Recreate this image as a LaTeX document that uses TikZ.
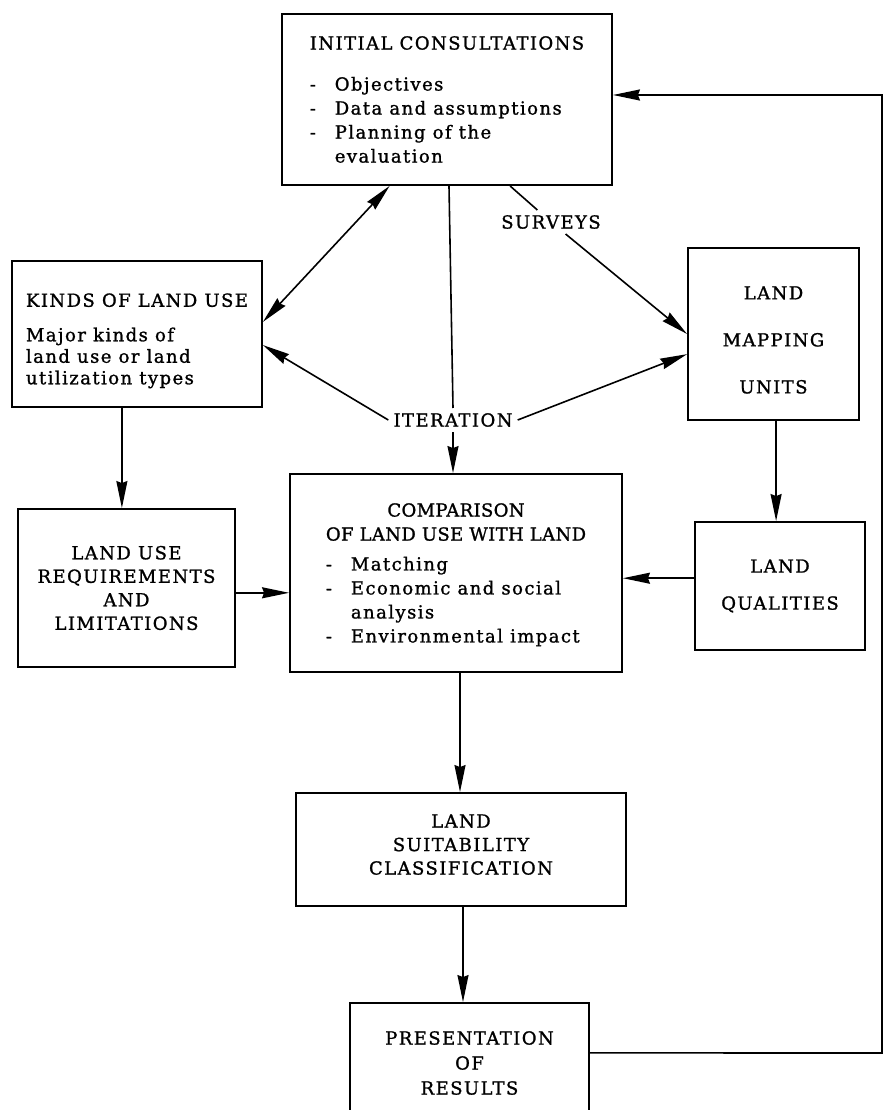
\documentclass[tikz,border=0pt]{standalone}
\usepackage{fontspec}
\setmainfont{DejaVu Serif}[LetterSpace=8,FakeBold=1.2]
\newfontfamily\tightfont{DejaVu Serif}[LetterSpace=2,FakeBold=1.2]
\usetikzlibrary{calc,arrows.meta}
\newcommand{\bul}{\makebox[25pt][l]{-}}
\begin{document}
\begin{tikzpicture}[x=1pt,y=-1pt,
  box/.style={draw,line width=1.9pt,inner sep=0pt,align=center},
  tag/.style={inner sep=5pt,font=\fontsize{18}{22}\selectfont},
  link/.style={line width=1.6pt},
  arr/.style={link,-{Stealth[length=27pt,width=11pt,inset=2pt]}},
  darr/.style={link,{Stealth[length=27pt,width=11pt,inset=2pt]}-{Stealth[length=27pt,width=11pt,inset=2pt]}}]
\useasboundingbox (0,0) rectangle (891,1110);
\fill[white] (0,0) rectangle (891,1110);

\node[box,align=left,minimum width=330pt,minimum height=171pt,font=\fontsize{18}{24}\selectfont] (cons) at (447,99.5)
  {INITIAL CONSULTATIONS\\[17pt]\bul Objectives\\ \bul Data and assumptions\\ \bul Planning of the\\ \hspace*{25pt}evaluation};
\node[box,align=left,minimum width=250pt,minimum height=146pt,font=\fontsize{18}{21.5}\selectfont] (kinds) at (137,334)
  {\rule{0pt}{27pt}KINDS OF LAND USE\\[13pt]Major kinds of\\land use or land\\utilization types};
\node[box,minimum width=171pt,minimum height=172pt,font=\fontsize{18}{47}\selectfont] (lmu) at (773.5,334)
  {\rule{0pt}{25pt}LAND\\MAPPING\\UNITS};
\node[box,minimum width=217pt,minimum height=158pt,font=\fontsize{18}{23.5}\selectfont] (lur) at (126.5,588)
  {LAND USE\\REQUIREMENTS\\AND\\LIMITATIONS};
\node[box,align=left,minimum width=332pt,minimum height=198pt,font=\fontsize{18}{24}\selectfont] (comp) at (456,573)
  {{\tightfont\begin{tabular}{@{}c@{}}COMPARISON\\OF LAND USE WITH LAND\end{tabular}}\\[8pt]\bul Matching\\ \bul Economic and social\\ \hspace*{25pt}analysis\\ \bul Environmental impact};
\node[box,minimum width=170pt,minimum height=128pt,font=\fontsize{18}{37}\selectfont] (lq) at (780,586)
  {LAND\\QUALITIES};
\node[box,minimum width=330pt,minimum height=113pt,font=\fontsize{18}{23.5}\selectfont] (lsc) at (461,849.5)
  {LAND\\SUITABILITY\\CLASSIFICATION\rule[-10pt]{0pt}{0pt}};
\node[box,minimum width=239pt,minimum height=120pt,font=\fontsize{18}{25}\selectfont] (pres) at (469.5,1063)
  {PRESENTATION\\OF\\RESULTS};

\node[tag] (surv) at (551,222) {SURVEYS};
\node[tag] (iter) at (453,420) {ITERATION};

% connectors
\draw[darr] ($(cons.south west)!0.327!(cons.south east)$) -- ($(kinds.north east)!0.418!(kinds.south east)$);
\draw[link] ($(cons.south west)!0.69!(cons.south east)$) -- (surv);
\draw[arr] (surv) -- (lmu.west);
\draw[link] ($(cons.south west)!0.506!(cons.south east)$) -- (iter.north);
\draw[arr] (iter.south) -- (iter.south |- comp.north);
\draw[arr] (iter.west) -- ($(kinds.north east)!0.575!(kinds.south east)$);
\draw[arr] (iter.east) -- ($(lmu.north west)!0.616!(lmu.south west)$);
\draw[arr] ($(kinds.south west)!0.44!(kinds.south east)$) coordinate (k1) -- (k1 |- lur.north);
\draw[arr] ($(lur.north east)!0.53!(lur.south east)$) coordinate (l1) -- (l1 -| comp.west);
\draw[arr] ($(lmu.south west)!0.515!(lmu.south east)$) coordinate (m1) -- (m1 |- lq.north);
\draw[arr] ($(lq.north west)!0.44!(lq.south west)$) coordinate (q1) -- (q1 -| comp.east);
\draw[arr] ($(comp.south west)!0.512!(comp.south east)$) coordinate (c1) -- (c1 |- lsc.north);
\draw[arr] ($(lsc.south west)!0.506!(lsc.south east)$) coordinate (s1) -- (s1 |- pres.north);
\coordinate (fbB) at (882,1053);
\coordinate (fbT) at (882,95);
\draw[arr] ($(pres.north east)!0.417!(pres.south east)$) -- (fbB) -- (fbT) -- (fbT -| cons.east);
\end{tikzpicture}
\end{document}
